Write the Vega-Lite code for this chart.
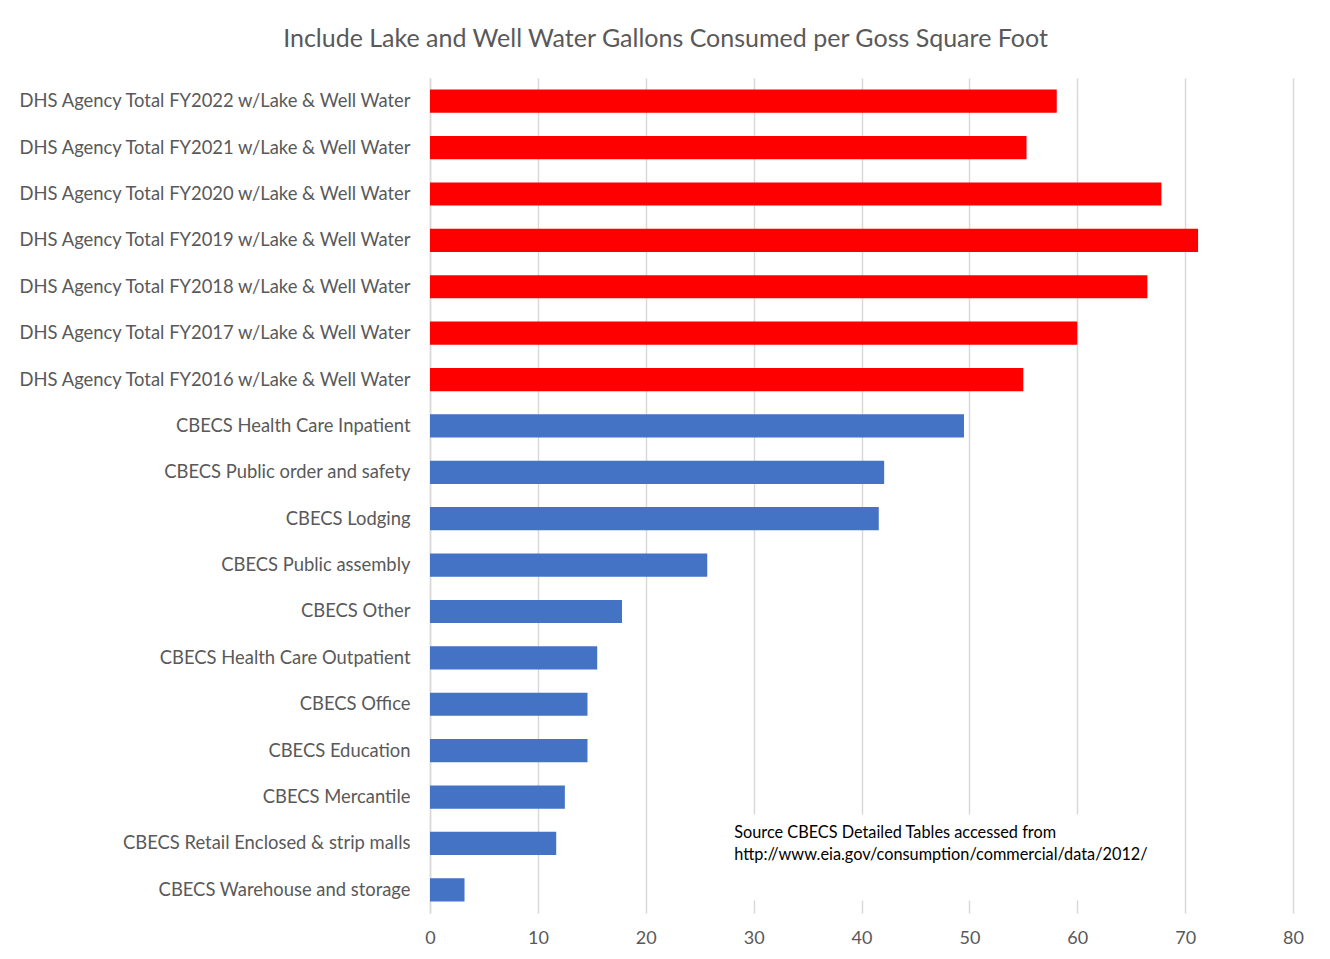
{
  "$schema": "https://vega.github.io/schema/vega-lite/v6.json",
  "width": 863,
  "height": 835,
  "autosize": {"type": "none"},
  "padding": {"left": 430, "top": 78, "right": 37, "bottom": 46},
  "background": "white",
  "title": {
    "text": "Include Lake and Well Water Gallons Consumed per Goss Square Foot",
    "fontSize": 25,
    "font": "Lato",
    "fontWeight": "normal",
    "color": "#595959",
    "offset": 26,
    "dx": -196
  },
  "datasets": {
    "bars": [
      {"category": "DHS Agency Total FY2022 w/Lake & Well Water", "value": 58.1, "group": "DHS"},
      {"category": "DHS Agency Total FY2021 w/Lake & Well Water", "value": 55.3, "group": "DHS"},
      {"category": "DHS Agency Total FY2020 w/Lake & Well Water", "value": 67.8, "group": "DHS"},
      {"category": "DHS Agency Total FY2019 w/Lake & Well Water", "value": 71.2, "group": "DHS"},
      {"category": "DHS Agency Total FY2018 w/Lake & Well Water", "value": 66.5, "group": "DHS"},
      {"category": "DHS Agency Total FY2017 w/Lake & Well Water", "value": 60.0, "group": "DHS"},
      {"category": "DHS Agency Total FY2016 w/Lake & Well Water", "value": 55.0, "group": "DHS"},
      {"category": "CBECS Health Care Inpatient", "value": 49.5, "group": "CBECS"},
      {"category": "CBECS Public order and safety", "value": 42.1, "group": "CBECS"},
      {"category": "CBECS Lodging", "value": 41.6, "group": "CBECS"},
      {"category": "CBECS Public assembly", "value": 25.7, "group": "CBECS"},
      {"category": "CBECS Other", "value": 17.8, "group": "CBECS"},
      {"category": "CBECS Health Care Outpatient", "value": 15.5, "group": "CBECS"},
      {"category": "CBECS Office", "value": 14.6, "group": "CBECS"},
      {"category": "CBECS Education", "value": 14.6, "group": "CBECS"},
      {"category": "CBECS Mercantile", "value": 12.5, "group": "CBECS"},
      {"category": "CBECS Retail Enclosed & strip malls", "value": 11.7, "group": "CBECS"},
      {"category": "CBECS Warehouse and storage", "value": 3.2, "group": "CBECS"}
    ],
    "note": [
      {"category": "CBECS Retail Enclosed & strip malls", "x": 28.2, "x2": 67.5, "lines": ["Source CBECS Detailed Tables accessed from", "http://www.eia.gov/consumption/commercial/data/2012/"]}
    ]
  },
  "config": {
    "view": {"stroke": null},
    "font": "Lato"
  },
  "layer": [
    {
      "data": {"name": "bars"},
      "mark": {"type": "bar"},
      "encoding": {
        "y": {
          "field": "category",
          "type": "nominal",
          "sort": null,
          "scale": {"paddingInner": 0.5, "paddingOuter": 0.25},
          "axis": {
            "title": null,
            "labelFontSize": 18.4,
            "labelColor": "#595959",
            "labelPadding": 20,
            "labelLimit": 420,
            "ticks": false,
            "domainColor": "#d9d9d9",
            "domainWidth": 1.5,
            "minExtent": 410,
            "maxExtent": 410
          }
        },
        "x": {
          "field": "value",
          "type": "quantitative",
          "scale": {"domain": [0, 80], "nice": false},
          "axis": {
            "title": null,
            "values": [0, 10, 20, 30, 40, 50, 60, 70, 80],
            "labelFontSize": 18,
            "labelColor": "#595959",
            "labelPadding": 16,
            "labelFlush": false,
            "ticks": false,
            "domain": false,
            "gridColor": "#d9d9d9",
            "gridWidth": 1.5
          }
        },
        "color": {
          "field": "group",
          "type": "nominal",
          "scale": {"domain": ["DHS", "CBECS"], "range": ["#FF0000", "#4472C4"]},
          "legend": null
        }
      }
    },
    {
      "data": {"name": "note"},
      "mark": {"type": "bar", "color": "white", "height": 86, "yOffset": 14},
      "encoding": {
        "y": {"field": "category", "type": "nominal", "sort": null},
        "x": {"field": "x", "type": "quantitative"},
        "x2": {"field": "x2"}
      }
    },
    {
      "data": {"name": "note"},
      "mark": {"type": "text", "align": "left", "baseline": "middle", "fontSize": 16.3, "color": "#000000", "lineHeight": 22, "font": "Lato", "dy": -10},
      "encoding": {
        "y": {"field": "category", "type": "nominal", "sort": null},
        "x": {"field": "x", "type": "quantitative"},
        "text": {"field": "lines"}
      }
    }
  ]
}
